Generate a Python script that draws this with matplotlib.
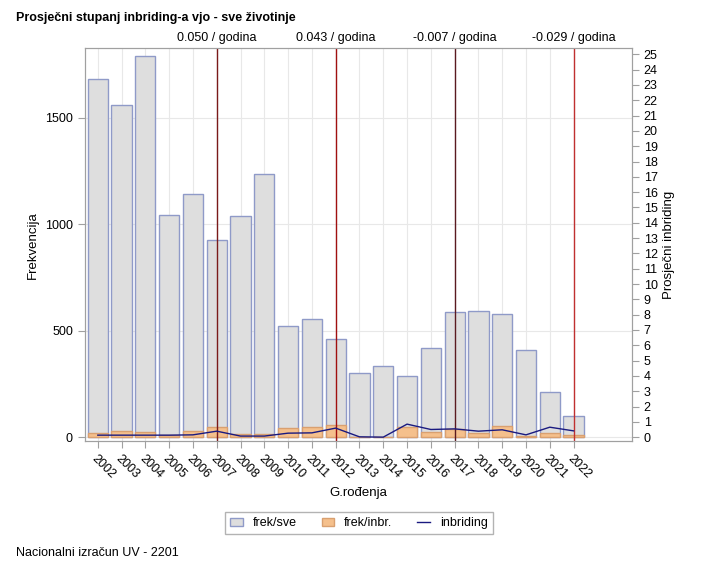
import matplotlib
matplotlib.use("Agg")
import matplotlib.pyplot as plt

years = [str(y) for y in range(2002, 2023)]
frek_sve = [1680,1560,1790,1045,1140,925,1040,1235,520,555,460,300,335,285,420,585,590,580,410,210,100]
frek_inbr = [17,27,23,11,28,45,16,16,44,47,56,0,0,48,25,38,19,53,6,19,8]
inbriding = [0.13,0.13,0.13,0.13,0.15,0.39,0.07,0.07,0.26,0.28,0.59,0.02,0.0,0.85,0.5,0.54,0.39,0.48,0.15,0.65,0.41]
ref_years = ["2007","2012","2017","2022"]
ref_labels = ["0.050 / godina","0.043 / godina","-0.007 / godina","-0.029 / godina"]
ref_colors = ["#7a1a1a","#a01010","#5a1a20","#c03030"]

plt.rcParams['font.family'] = 'Liberation Sans'
fig = plt.figure(figsize=(7.18,5.67), dpi=100)
ax = fig.add_axes([0.118,0.222,0.762,0.693])
x = list(range(len(years)))
ax.bar(x, frek_sve, width=0.85, color='#dedede', edgecolor='#8f9ac8', linewidth=1, label='frek/sve', zorder=2)
ax.bar(x, frek_inbr, width=0.85, color='#f5c08c', edgecolor='#d9a070', linewidth=1, label='frek/inbr.', zorder=3)
ax.set_xlim(-0.55, 22.45)
ax.set_ylim(-19, 1826)
ax.set_yticks([0,500,1000,1500])
ax.set_xticks(x)
ax.set_xticklabels(years, rotation=-45, ha='left', rotation_mode='anchor')
ax.grid(True, color='#e8e8e8', zorder=0)
ax.set_axisbelow(True)
ax.set_ylabel('Frekvencija', fontsize=9.5)
ax.set_xlabel('G.rođenja', fontsize=9.5)
ax2 = ax.twinx()
ax2.set_ylim(-0.26, 25.4)
ax2.set_yticks(range(26))
ax2.plot(x, inbriding, color='#1a1a80', linewidth=1, label='inbriding', zorder=4)
ax2.set_ylabel('Prosječni inbriding', fontsize=9.5)
for ry, lab, c in zip(ref_years, ref_labels, ref_colors):
    i = years.index(ry)
    ax.axvline(i, color=c, linewidth=1, zorder=5)
    ax.text(i, 1.01, lab, transform=ax.get_xaxis_transform(), ha='center', va='bottom', fontsize=9)
for a in (ax, ax2):
    for s in a.spines.values():
        s.set_color('#a0a0a0')
    a.tick_params(colors='black', labelsize=9, length=5)
    a.tick_params(axis='both', color='#a0a0a0')
h1, l1 = ax.get_legend_handles_labels()
h2, l2 = ax2.get_legend_handles_labels()
fig.legend(h1+h2, l1+l2, loc='center', bbox_to_anchor=(0.5, 0.077), ncol=3, fontsize=9,
           frameon=True, fancybox=False, edgecolor='#a0a0a0', handlelength=1.0, columnspacing=2.0)
fig.text(0.022, 0.963, 'Prosječni stupanj inbriding-a vjo - sve životinje', fontsize=9, fontweight='bold')
fig.text(0.022, 0.02, 'Nacionalni izračun UV - 2201', fontsize=9)
fig.savefig('out.png')
